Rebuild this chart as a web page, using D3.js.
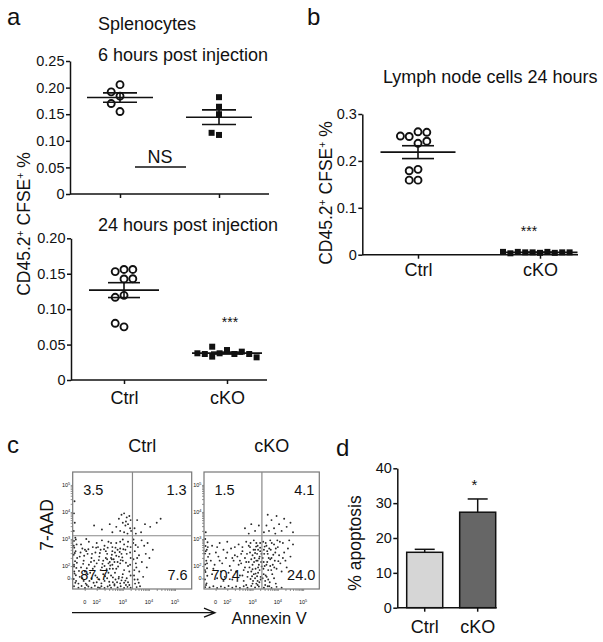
<!DOCTYPE html>
<html>
<head>
<meta charset="utf-8">
<script src="https://cdn.jsdelivr.net/npm/d3@7"></script>
<style>
  body { margin: 0; background: #fff; }
  svg text { font-family: "Liberation Sans", Arial, sans-serif; fill: #111; }
</style>
</head>
<body>
<svg id="fig" width="603" height="642"></svg>
<script>
const groups = ["Ctrl", "cKO"]

// panel a, splenocytes
const ctrl6h = [0.2055, 0.192, 0.184, 0.170, 0.155]
const cko6h = [0.182, 0.164, 0.150, 0.111, 0.115]
const ctrl24h = [0.156, 0.153, 0.156, 0.1426, 0.143, 0.1195, 0.1167, 0.075, 0.080]
const cko24h = [0.0423, 0.0377, 0.0367, 0.047, 0.040, 0.0367, 0.0367, 0.0377, 0.033, 0.032]
const ticks6h = [0, 0.05, 0.10, 0.15, 0.20, 0.25]
const ticks24h = [0, 0.05, 0.10, 0.15, 0.20]

// panel b, lymph node
const ctrlLymph = [0.262, 0.252, 0.261, 0.2375, 0.242, 0.253, 0.182, 0.179, 0.159, 0.159]
const ckoLymph = [0.004, 0.005, 0.006, 0.005, 0.004, 0.006, 0.005, 0.003, 0.005, 0.006]
const ticksLymph = [0, 0.1, 0.2, 0.3]

// panel d, apoptosis
const apoptosisMean = [15.9, 27.4]
const apoptosisSem = [0.85, 3.8]
const ticksApoptosis = [0, 10, 20, 30, 40]

// panel c, flow (axis units: 2 = 10^2 ... 5 = 10^5)
const flowTicks = [1.54, 2, 3, 4, 5]
const flowTickExp = [null, 2, 3, 4, 5]
const quadCtrl = ["3.5", "1.3", "87.7", "7.6"]
const quadCko = ["1.5", "4.1", "70.4", "24.0"]
const flowCtrl = [
  [1.13,1.25],[1.18,1.38],[1.12,1.52],[1.2,1.66],[1.14,1.8],[1.22,1.93],[1.13,2.05],[1.17,2.18],[1.25,2.3],[1.12,2.42],
  [1.19,2.55],[1.14,2.68],[1.23,2.8],[1.13,2.93],[1.18,3.05],[1.12,3.3],[1.16,3.6],[1.13,3.95],[1.15,4.4],[1.21,1.45],
  [1.15,1.72],[1.24,2.12],[1.16,2.48],[1.12,2.75],[1.2,2.98],[1.13,1.98],
  [1.3,1.2],[1.42,1.26],[1.55,1.19],[1.68,1.24],[1.8,1.2],[1.93,1.27],[2.05,1.21],[2.18,1.25],[2.3,1.19],[2.42,1.24],
  [2.55,1.2],[2.68,1.28],[2.8,1.21],[2.92,1.25],[3.05,1.19],[3.18,1.23],[3.3,1.2],[1.62,1.3],[2.12,1.19],[2.5,1.29],
  [2.62,1.4],[2.72,1.5],[2.84,1.54],[2.95,1.47],[3.05,1.38],[2.68,1.33],[2.9,1.36],[3.12,1.3],
  [1.4,2.8],[1.55,2.6],[1.7,2.9],[1.85,2.7],[2.0,2.85],[2.15,2.6],[2.3,2.75],[2.45,2.9],[2.6,2.7],[2.75,2.85],
  [2.9,2.65],[3.05,2.8],[3.2,2.9],[1.35,2.35],[1.5,2.2],[1.65,2.45],[1.8,2.3],[1.95,2.5],[2.1,2.35],[2.25,2.2],
  [2.4,2.45],[2.55,2.3],[2.7,2.5],[2.85,2.35],[3.0,2.2],[3.15,2.45],[3.3,2.3],[1.4,1.95],[1.55,1.8],[1.7,2.05],
  [1.85,1.9],[2.0,2.1],[2.15,1.85],[2.3,2.0],[2.45,1.75],[2.6,2.05],[2.75,1.9],[2.9,2.1],[3.05,1.85],[3.2,2.0],
  [1.35,1.6],[1.5,1.45],[1.65,1.7],[1.8,1.55],[1.95,1.65],[2.1,1.5],[2.25,1.7],[2.4,1.55],[2.55,1.65],[2.7,1.75],
  [2.85,1.6],[3.0,1.7],[3.15,1.55],[3.3,1.65],[2.05,2.7],[2.35,2.55],[2.5,2.15],[2.65,2.25],[2.8,2.6],[2.95,2.45],
  [2.2,1.95],[2.35,2.3],[2.5,1.9],[2.6,2.55],[2.8,2.15],[3.1,2.6],[3.25,1.8],[1.6,2.55],[1.9,2.2],[1.75,1.75],
  [2.0,1.4],[2.3,1.45],[3.2,1.4],[3.3,2.7],[1.45,2.65],[2.55,2.85],[2.9,2.9],[3.0,2.98],[1.6,3.0],[2.2,2.95],
  [1.3,1.35],[1.45,1.55],[1.58,1.35],[1.72,1.45],[1.88,1.38],[2.02,1.58],[2.18,1.36],[2.32,1.62],[2.48,1.42],[2.62,1.58],
  [2.78,1.4],[2.98,1.58],[3.1,1.46],[3.25,1.3],[1.32,1.82],[1.48,2.08],[1.62,1.92],[1.78,2.15],[1.92,1.98],[2.08,2.22],
  [2.22,2.08],[2.38,1.88],[2.52,2.02],[2.68,2.15],[2.82,1.98],[2.98,2.32],[3.12,2.12],[3.28,2.05],[1.38,2.5],[1.52,2.38],
  [1.68,2.62],[1.82,2.45],[1.98,2.68],[2.12,2.48],[2.28,2.62],[2.42,2.68],[2.58,2.42],[2.72,2.68],[2.88,2.52],[3.02,2.62],
  [3.18,2.72],[3.28,2.5],[2.45,2.1],[2.62,1.9],[2.75,2.38],[2.92,2.22],[2.58,2.25],[2.4,2.25],
  [2.95,3.9],[3.05,3.95],[3.15,3.8],[3.25,3.85],[3.3,3.7],[3.0,3.6],[3.1,3.5],[3.2,3.55],[3.28,3.4],[2.9,3.3],
  [3.05,3.25],[3.18,3.2],[3.32,3.3],[2.75,3.45],[2.5,3.55],[2.2,3.35],[1.9,3.5],[2.6,3.25],[3.12,3.65],[2.85,3.75],
  [3.45,3.4],[3.55,3.7],[3.7,3.25],[3.85,3.55],[4.05,3.45],[4.3,3.6],[4.45,3.75],[3.5,3.2],
  [3.4,2.85],[3.46,2.55],[3.41,2.25],[3.52,1.95],[3.43,1.65],[3.47,1.35],[3.58,2.7],[3.62,2.4],[3.5,2.1],[3.63,1.8],
  [3.57,1.5],[3.72,2.95],[3.73,2.15],[3.78,1.6],[3.66,1.25],[3.88,2.45],[3.92,1.95],[3.41,2.98],[3.49,2.78],[3.44,1.85],
  [3.53,1.22],[3.82,2.75],[4.02,2.3],[3.61,1.38],[3.95,2.85],[3.45,1.5],[3.55,2.3],[4.15,2.6]
]
const flowCko = [
  [1.13,1.22],[1.18,1.36],[1.12,1.5],[1.21,1.64],[1.14,1.78],[1.2,1.92],[1.13,2.06],[1.17,2.2],[1.24,2.34],[1.12,2.46],
  [1.19,2.6],[1.14,2.74],[1.22,2.88],[1.13,3.0],[1.16,1.3],[1.2,2.1],[1.15,2.55],[1.12,1.85],[1.23,2.7],[1.15,3.25],
  [1.3,1.21],[1.45,1.25],[1.6,1.19],[1.75,1.24],[1.9,1.2],[2.05,1.26],[2.2,1.2],[2.35,1.24],[2.5,1.19],[2.65,1.25],
  [2.8,1.2],[2.95,1.26],[3.1,1.21],[3.25,1.24],[3.45,1.2],[3.6,1.25],[3.75,1.19],[3.95,1.23],[4.15,1.2],[2.75,1.3],
  [3.2,1.3],[3.0,1.35],
  [1.4,2.75],[1.55,2.5],[1.7,2.85],[1.85,2.6],[2.0,2.9],[2.15,2.65],[2.3,2.4],[2.45,2.8],[2.6,2.55],[2.75,2.9],
  [2.9,2.7],[3.05,2.95],[3.2,2.75],[3.3,2.55],[1.35,2.2],[1.5,2.05],[1.65,2.35],[1.8,2.1],[1.95,2.3],[2.1,2.0],
  [2.25,2.2],[2.4,2.35],[2.55,2.1],[2.7,2.3],[2.85,2.15],[3.0,2.4],[3.15,2.2],[3.28,2.35],[1.4,1.7],[1.6,1.55],
  [1.75,1.8],[1.9,1.6],[2.05,1.75],[2.2,1.5],[2.35,1.8],[2.5,1.65],[2.65,1.85],[2.8,1.6],[2.95,1.8],[3.1,1.55],
  [3.22,1.75],[3.32,1.6],[2.9,2.5],[3.0,2.05],[3.05,1.7],[3.1,2.6],[3.12,1.9],[3.18,2.45],[3.2,1.45],[3.25,2.05],
  [3.28,1.85],[3.3,2.85],[3.15,2.85],[2.95,2.25],[3.02,1.45],[2.88,1.95],[2.78,2.45],[2.7,1.95],[2.6,2.7],[2.5,2.2],
  [2.85,2.75],[3.08,2.3],[3.22,2.6],[3.34,2.15],[2.4,1.45],[2.65,1.45],[2.98,1.62],[3.15,1.35],[3.27,1.4],
  [2.92,1.52],[3.0,1.88],[3.06,2.15],[3.1,2.48],[3.14,2.72],[3.18,1.62],[3.22,1.95],[3.26,2.28],[3.3,2.68],[3.32,1.5],
  [3.36,1.98],[3.35,2.45],[3.12,1.72],[3.04,2.6],[3.2,2.2],[1.3,2.45],[1.45,1.9],[1.6,2.7],[1.7,2.2],[1.85,1.45],
  [2.0,2.5],[2.15,1.85],[2.3,2.7],[2.45,2.05],[2.6,1.65],[2.75,2.15],[2.82,1.78],[2.92,2.85],[2.55,2.45],[2.2,2.3],
  [3.42,2.9],[3.45,2.6],[3.4,2.3],[3.48,2.0],[3.44,1.7],[3.5,1.45],[3.55,2.75],[3.6,2.45],[3.58,2.15],[3.62,1.85],
  [3.56,1.6],[3.7,2.95],[3.72,2.6],[3.75,2.3],[3.7,2.0],[3.78,1.7],[3.68,1.4],[3.85,2.8],[3.9,2.5],[3.88,2.2],
  [3.95,1.9],[3.85,1.55],[4.0,2.7],[4.05,2.4],[4.1,2.1],[4.2,2.85],[4.25,2.5],[4.3,2.2],[4.4,2.65],[4.5,2.35],
  [4.6,2.8],[3.52,2.85],[3.46,2.45],[3.43,1.9],[3.64,2.3],[3.8,2.05],[3.98,2.95],[4.15,1.8],[3.66,1.25],[3.92,1.35],
  [4.35,1.95],[3.5,1.3],[3.4,1.55],[3.76,2.85],[4.45,2.95],
  [3.44,2.15],[3.48,2.72],[3.52,1.65],[3.55,2.05],[3.58,2.55],[3.62,1.5],[3.66,2.65],[3.7,2.25],[3.74,1.85],[3.82,2.42],
  [3.86,1.95],[3.92,2.65],[4.02,2.18],[4.08,2.9],[4.2,2.3],
  [3.45,3.25],[3.55,3.5],[3.65,3.3],[3.75,3.7],[3.85,3.4],[3.95,3.85],[4.05,3.55],[4.15,3.3],[4.25,3.75],[4.35,3.45],
  [4.5,3.6],[3.6,3.9],[3.9,3.2],[4.6,3.25],
  [2.7,3.4],[2.95,3.55],[3.1,3.3],[3.25,3.5],[2.85,3.2]
]

const svg = d3.select("#fig")
const fmt2 = d => d === 0 ? "0" : d3.format(".2f")(d)
const fmt1 = d => d === 0 ? "0" : d3.format(".1f")(d)

function styleAxis(g, size) {
  g.selectAll(".domain, line").attr("stroke", "#111").attr("stroke-width", 1.5)
  g.selectAll("text").attr("font-size", size).attr("font-family", null).attr("fill", "#111")
}

// greedy beeswarm: spread points that would overlap
function swarm(vals, y, d) {
  const placed = []
  return vals.map(v => {
    const py = y(v)
    for (let k = 0; ; k++) {
      const off = k === 0 ? 0 : (k % 2 ? -1 : 1) * Math.ceil(k / 2) * d
      if (placed.every(p => Math.hypot(p[0] - off, p[1] - py) >= d - 0.01)) {
        placed.push([off, py])
        return off
      }
    }
  })
}

function dotPanel(o) {
  const y = d3.scaleLinear().domain([0, o.max]).range([o.bottom, o.top])
  const x = d3.scalePoint().domain(groups).range(o.centers)

  const gy = svg.append("g")
    .attr("transform", `translate(${o.left},0)`)
    .call(d3.axisLeft(y).tickValues(o.ticks).tickFormat(o.fmt).tickSize(4).tickPadding(1.5).tickSizeOuter(0))
  styleAxis(gy, 14.5)

  const gx = svg.append("g")
    .attr("transform", `translate(0,${o.bottom})`)
    .call(d3.axisBottom(x).tickSize(4).tickPadding(o.pad || 3).tickFormat(o.labels ? d => d : ""))
  gx.select(".domain").remove()
  styleAxis(gx, 18)
  svg.append("line")
    .attr("x1", o.left).attr("x2", o.right)
    .attr("y1", o.bottom).attr("y2", o.bottom)
    .attr("stroke", "#111").attr("stroke-width", 1.5)

  const ctrlOff = swarm(o.ctrl, y, 8.8)
  svg.append("g").selectAll("circle")
    .data(o.ctrl)
    .join("circle")
    .attr("cx", (d, i) => x("Ctrl") + ctrlOff[i])
    .attr("cy", d => y(d))
    .attr("r", 3.5)
    .attr("fill", "#fff")
    .attr("stroke", "#111")
    .attr("stroke-width", 1.9)

  const ckoOff = swarm(o.cko, y, 7.4)
  svg.append("g").selectAll("rect")
    .data(o.cko)
    .join("rect")
    .attr("x", (d, i) => x("cKO") + ckoOff[i] - 3)
    .attr("y", d => y(d) - 3)
    .attr("width", 6)
    .attr("height", 6)
    .attr("fill", "#111")

  // mean and SEM
  ;[o.ctrl, o.cko].forEach((vals, i) => {
    const cx = x(groups[i])
    const m = d3.mean(vals)
    const sem = d3.deviation(vals) / Math.sqrt(vals.length)
    const g = svg.append("g").attr("stroke", "#111").attr("stroke-width", 1.6)
    g.append("line").attr("x1", cx - o.meanW).attr("x2", cx + o.meanW).attr("y1", y(m)).attr("y2", y(m))
    g.append("line").attr("x1", cx).attr("x2", cx).attr("y1", y(m - sem)).attr("y2", y(m + sem))
    ;[m - sem, m + sem].forEach(v => {
      g.append("line").attr("x1", cx - o.semW).attr("x2", cx + o.semW).attr("y1", y(v)).attr("y2", y(v))
    })
  })
  return { x, y }
}

function addText(txt, x, y, size, anchor) {
  return svg.append("text").attr("x", x).attr("y", y).attr("font-size", size)
    .attr("text-anchor", anchor || "start").text(txt)
}

function cfseLabel(x, y) {
  const t = svg.append("text")
    .attr("transform", `translate(${x},${y}) rotate(-90)`)
    .attr("text-anchor", "middle")
    .attr("font-size", 17.5)
  t.append("tspan").text("CD45.2")
  t.append("tspan").attr("baseline-shift", "super").attr("font-size", "0.6em").text("+")
  t.append("tspan").text(" CFSE")
  t.append("tspan").attr("baseline-shift", "super").attr("font-size", "0.6em").text("+")
  t.append("tspan").text(" %")
}

// ---- panel a
addText("a", 7, 25, 24)
addText("Splenocytes", 98, 30, 18)
addText("6 hours post injection", 98, 61, 18)
dotPanel({ max: 0.25, top: 61, bottom: 194, left: 70, right: 269, centers: [120, 219],
  ticks: ticks6h, fmt: fmt2, ctrl: ctrl6h, cko: cko6h, meanW: 33, semW: 17, labels: false })
svg.append("line").attr("x1", 135).attr("x2", 186).attr("y1", 167).attr("y2", 167)
  .attr("stroke", "#111").attr("stroke-width", 1.4)
addText("NS", 160, 163, 18, "middle")

addText("24 hours post injection", 98, 231, 18)
dotPanel({ max: 0.20, top: 238.3, bottom: 380, left: 71, right: 267, centers: [124, 227],
  ticks: ticks24h, fmt: fmt2, ctrl: ctrl24h, cko: cko24h, meanW: 35, semW: 16, labels: true, pad: 7 })
addText("***", 230, 327, 14, "middle")
cfseLabel(30, 224)

// ---- panel b
addText("b", 307, 25, 24)
addText("Lymph node cells 24 hours", 383, 83, 18)
dotPanel({ max: 0.3, top: 114, bottom: 254.7, left: 362.3, right: 578, centers: [418, 540],
  ticks: ticksLymph, fmt: fmt1, ctrl: ctrlLymph, cko: ckoLymph, meanW: 37.5, semW: 16, labels: true, pad: 5 })
addText("***", 529, 236, 14, "middle")
cfseLabel(332, 193)

// ---- panel c, flow plots
addText("c", 7, 453, 24)

function flowPanel(pts, x0, x1, quad, title) {
  const xs = d3.scaleLinear().domain([1.08, 5.64]).range([x0, x1])
  const ys = d3.scaleLinear().domain([1.15, 5.48]).range([589, 472])
  addText(title, (x0 + x1) / 2 + 10, 452, 18, "middle")

  svg.append("g").selectAll("circle")
    .data(pts)
    .join("circle")
    .attr("cx", d => xs(d[0]))
    .attr("cy", d => ys(d[1]))
    .attr("r", 0.95)
    .attr("fill", "#2a2a2a")

  svg.append("rect")
    .attr("x", x0).attr("y", 472).attr("width", x1 - x0).attr("height", 117)
    .attr("fill", "none").attr("stroke", "#777").attr("stroke-width", 1.2)
  svg.append("line").attr("x1", xs(3.37)).attr("x2", xs(3.37)).attr("y1", 472).attr("y2", 589)
    .attr("stroke", "#888").attr("stroke-width", 1.2)
  svg.append("line").attr("x1", x0).attr("x2", x1).attr("y1", ys(3.12)).attr("y2", ys(3.12))
    .attr("stroke", "#888").attr("stroke-width", 1.2)

  // minor ticks on the log decades
  const minor = []
  for (let n = 2; n < 5; n++) for (let k = 2; k < 10; k++) minor.push(n + Math.log10(k))
  const gx = svg.append("g").attr("transform", "translate(0,589)")
    .call(d3.axisBottom(xs).tickValues(flowTicks.concat(minor)).tickSize(2).tickFormat(""))
  const gy = svg.append("g").attr("transform", `translate(${x0},0)`)
    .call(d3.axisLeft(ys).tickValues(flowTicks.concat(minor)).tickSize(2).tickFormat(""))
  ;[gx, gy].forEach(g => {
    g.select(".domain").remove()
    g.selectAll("line").attr("stroke", "#777").attr("stroke-width", 0.8)
  })

  flowTicks.forEach((t, i) => {
    const e = flowTickExp[i]
    const tx = svg.append("text").attr("x", xs(t)).attr("y", 604)
      .attr("text-anchor", "middle").attr("font-size", 5.5).attr("fill", "#444")
    const ty = svg.append("text").attr("x", x0 - 2.5).attr("y", ys(t) + 2)
      .attr("text-anchor", "end").attr("font-size", 5.5).attr("fill", "#444")
    ;[tx, ty].forEach(s => {
      if (e === null) { s.text("0"); return }
      s.append("tspan").text("10")
      s.append("tspan").attr("baseline-shift", "super").attr("font-size", "0.7em").text(e)
    })
  })

  addText(quad[0], x0 + 10.5, 495, 14.5)
  addText(quad[1], x1 - 5, 495, 14.5, "end")
  addText(quad[2], x0 + 7.5, 580, 14.5)
  addText(quad[3], x1 - 4, 580, 14.5, "end")
}

flowPanel(flowCtrl, 72.7, 191.7, quadCtrl, "Ctrl")
flowPanel(flowCko, 204, 319.3, quadCko, "cKO")

svg.append("text")
  .attr("transform", "translate(53,525) rotate(-90)")
  .attr("text-anchor", "middle").attr("font-size", 17.5).text("7-AAD")
svg.append("path")
  .attr("d", "M72,612.7H215M204,608.2L215,612.7L204,617.2")
  .attr("fill", "none").attr("stroke", "#111").attr("stroke-width", 1.3)
addText("Annexin V", 231.5, 624, 16.5)

// ---- panel d, bar chart
addText("d", 336, 456, 24)
const yd = d3.scaleLinear().domain([0, 40]).range([607.7, 468.3])
const xd = d3.scaleBand().domain(groups).range([406.7, 495.7]).paddingInner(0.32).paddingOuter(0)

const gyd = svg.append("g").attr("transform", "translate(397.3,0)")
  .call(d3.axisLeft(yd).tickValues(ticksApoptosis).tickSize(4).tickPadding(1.5).tickSizeOuter(0))
styleAxis(gyd, 14.5)
const gxd = svg.append("g").attr("transform", "translate(0,607.7)")
  .call(d3.axisBottom(xd).tickSize(4).tickPadding(9))
gxd.select(".domain").remove()
styleAxis(gxd, 18)

const barFill = ["#d6d6d6", "#666666"]
svg.append("g").selectAll("g")
  .data(groups)
  .join("g")
  .each(function (d, i) {
    const g = d3.select(this)
    const cx = xd(d) + xd.bandwidth() / 2
    const top = apoptosisMean[i] + apoptosisSem[i]
    g.append("line").attr("x1", cx).attr("x2", cx)
      .attr("y1", yd(apoptosisMean[i])).attr("y2", yd(top))
      .attr("stroke", "#111").attr("stroke-width", 1.5)
    g.append("line").attr("x1", cx - 10).attr("x2", cx + 10)
      .attr("y1", yd(top)).attr("y2", yd(top))
      .attr("stroke", "#111").attr("stroke-width", 1.5)
  })
svg.append("g").selectAll("rect")
  .data(groups)
  .join("rect")
  .attr("x", d => xd(d))
  .attr("y", (d, i) => yd(apoptosisMean[i]))
  .attr("width", xd.bandwidth())
  .attr("height", (d, i) => yd(0) - yd(apoptosisMean[i]))
  .attr("fill", (d, i) => barFill[i])
  .attr("stroke", "#111")
  .attr("stroke-width", 1.5)
svg.append("line").attr("x1", 397.3).attr("x2", 496.7).attr("y1", 607.7).attr("y2", 607.7)
  .attr("stroke", "#111").attr("stroke-width", 1.5)
addText("*", 474.3, 490, 15, "middle")

svg.append("text")
  .attr("transform", "translate(361,543) rotate(-90)")
  .attr("text-anchor", "middle").attr("font-size", 17.5).text("% apoptosis")
</script>
</body>
</html>
